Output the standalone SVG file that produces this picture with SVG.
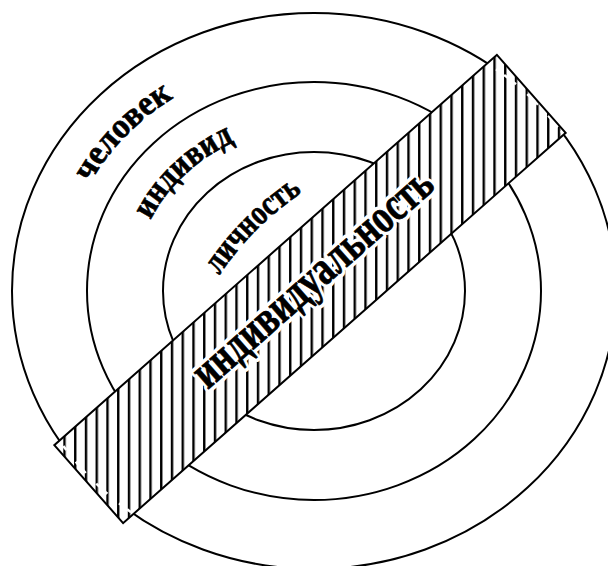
<svg xmlns="http://www.w3.org/2000/svg" xmlns:xlink="http://www.w3.org/1999/xlink" width="608" height="566" viewBox="0 0 608 566">
  <style>
    .ring { fill: none; stroke: #000; stroke-width: 2; }
    .lbl { font-family: "Liberation Serif", "Times New Roman", serif; font-weight: bold; font-size: 35px; fill: #000; stroke: #000; stroke-width: 0.7; }
    .big { font-family: "Liberation Serif", "Times New Roman", serif; font-weight: bold; font-size: 48px; }
    .halo { fill: #fff; stroke: #fff; stroke-width: 8; stroke-linejoin: round; }
    .ink { fill: #000; stroke: #000; stroke-width: 0.8; }
  </style>
  <defs>
    <pattern id="stripes" patternUnits="userSpaceOnUse" x="-1.2" y="0" width="10.75" height="20">
      <rect x="0" y="0" width="2.4" height="20" fill="#000"/>
    </pattern>
    <clipPath id="bandClip">
      <rect x="-295" y="-52" width="590" height="104" transform="translate(310 289) rotate(-41.4)"/>
    </clipPath>
    <path id="pChelovek" d="M 61 291 A 253 232 0 0 1 314 59"/>
    <path id="pIndivid" d="M 133 291 A 181 166 0 0 1 314 125"/>
    <path id="pLichnost" d="M 197 315 A 300 300 0 0 1 342 170"/>
  </defs>

  <rect width="608" height="566" fill="#fff"/>

  <g id="ring-chelovek">
    <ellipse class="ring" cx="314" cy="291" rx="302" ry="278"/>
    <text class="lbl"><textPath xlink:href="#pChelovek" href="#pChelovek" startOffset="45.5%" text-anchor="middle" textLength="120" lengthAdjust="spacingAndGlyphs">человек</textPath></text>
  </g>

  <g id="ring-individ">
    <ellipse class="ring" cx="314" cy="291" rx="227" ry="209"/>
    <text class="lbl"><textPath xlink:href="#pIndivid" href="#pIndivid" startOffset="48.5%" text-anchor="middle" textLength="117" lengthAdjust="spacingAndGlyphs">индивид</textPath></text>
  </g>

  <g id="ring-lichnost">
    <ellipse class="ring" cx="314" cy="291" rx="151" ry="139"/>
    <text class="lbl"><textPath xlink:href="#pLichnost" href="#pLichnost" startOffset="50%" text-anchor="middle" textLength="118" lengthAdjust="spacingAndGlyphs">личность</textPath></text>
  </g>

  <g id="band-individualnost">
    <g transform="translate(310 289) rotate(-41.4)">
      <rect x="-295" y="-52" width="590" height="104" fill="#fff"/>
    </g>
    <rect x="0" y="0" width="608" height="566" fill="url(#stripes)" clip-path="url(#bandClip)"/>
    <ellipse cx="314" cy="291" rx="302" ry="278" fill="none" stroke="#fff" stroke-width="2.5" stroke-dasharray="5 5" clip-path="url(#bandClip)"/>
    <g transform="translate(310 289) rotate(-41.4)">
      <rect x="-295" y="-52" width="590" height="104" fill="none" stroke="#000" stroke-width="2"/>
      <text class="big halo" x="9" y="8" text-anchor="middle" textLength="305" lengthAdjust="spacingAndGlyphs">индивидуальность</text>
      <text class="big ink" x="9" y="8" text-anchor="middle" textLength="305" lengthAdjust="spacingAndGlyphs">индивидуальность</text>
    </g>
  </g>
</svg>
